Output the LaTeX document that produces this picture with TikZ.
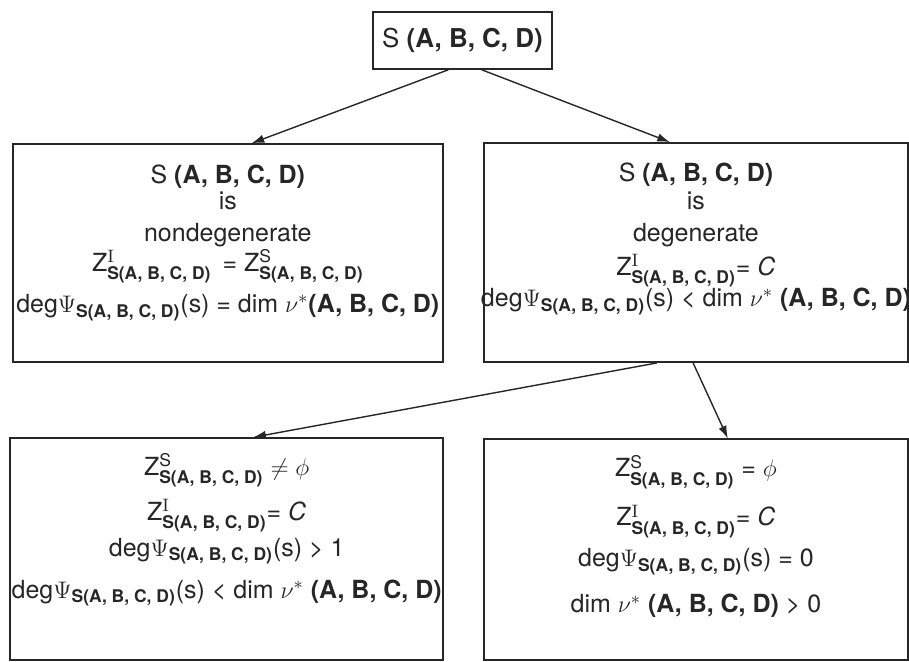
\documentclass[tikz,border=0pt]{standalone}
\usepackage{amsmath, amssymb}
\usepackage[no-math]{fontspec}
\setmainfont{TeX Gyre Heros}
\usepackage{tikz}
\usetikzlibrary{arrows.meta, positioning, calc}
\definecolor{caseink}{HTML}{262626}
\newcommand{\sabcd}{\textbf{S(A, B, C, D)}}
\newcommand{\abcd}{\textbf{(A, B, C, D)}}
\newcommand{\zidx}[1]{Z$^{#1}_{\text{\sabcd}}$}
\newcommand{\degpsi}{deg$\Psi_{\text{\sabcd}}$(s)}
\tikzset{
  casebox/.style={draw=caseink, line width=0.8pt, inner sep=0pt},
  casetext/.style={align=center, inner sep=0pt, text=caseink,
                   font=\fontsize{12.5}{15}\selectfont},
  arrow/.style={-{Latex[length=2.2mm,width=1.5mm]}, line width=0.7pt, draw=caseink}
}
\begin{document}
\begin{tikzpicture}
        \useasboundingbox (0,0) rectangle (16,11.635);

        \node[casebox, casetext, minimum width=3.15cm, minimum height=1.0cm,
              font=\fontsize{13}{15}\selectfont] (root) at (8.14, 10.92) {S \abcd};

        \node[casebox, minimum width=7.57cm, minimum height=3.84cm] (nondeg) at (4.01, 7.18) {};
        \node[casebox, minimum width=7.46cm, minimum height=3.86cm] (deg) at (12.25, 7.19) {};
        \node[casebox, minimum width=7.62cm, minimum height=3.91cm] (notempty) at (3.99, 1.97) {};
        \node[casebox, minimum width=7.46cm, minimum height=3.89cm] (empty) at (12.25, 1.96) {};

        % upper row
        \node[casetext, below=0.37cm of nondeg.north] (nondegtxt) {%
          S \abcd\\[-2pt] is\\[1pt] nondegenerate\\[0pt]
          \zidx{\mathrm{I}} \,= \zidx{\text{S}}\\[4.5pt]
          \degpsi{} = dim $\nu^{*}$\abcd};
        \node[casetext, below=0.36cm of deg.north] (degtxt) {%
          S \abcd\\[-1pt] is\\[1pt] degenerate\\[2pt]
          \zidx{\mathrm{I}}= \textit{C}\\[-0.5pt]
          \degpsi{} < dim $\nu^{*}$ \abcd};

        % lower row
        \node[casetext, below=0.28cm of notempty.north] (notemptytxt) {%
          \zidx{\text{S}} $\neq\phi$\\[5pt]
          \zidx{\mathrm{I}}= \textit{C}\\[3pt]
          \degpsi{} > 1\\[6pt]
          \degpsi{} < dim $\nu^{*}$ \abcd};
        \node[casetext, below=0.29cm of empty.north] (emptytxt) {%
          \zidx{\text{S}} = $\phi$\\[7pt]
          \zidx{\mathrm{I}}= \textit{C}\\[5.5pt]
          \degpsi{} = 0\\[8pt]
          dim $\nu^{*}$ \abcd{} > 0};

        \draw[arrow] ([xshift=-0.25cm]root.south) -- ([xshift=0.42cm]nondeg.north);
        \draw[arrow] ([xshift=0.34cm]root.south) -- ([xshift=-0.46cm]deg.north);
        \draw[arrow] ([xshift=-0.69cm]deg.south) -- ([xshift=0.47cm]notempty.north);
        \draw[arrow] ([xshift=-0.05cm]deg.south) -- ([xshift=0.56cm]empty.north);
\end{tikzpicture}
\end{document}
